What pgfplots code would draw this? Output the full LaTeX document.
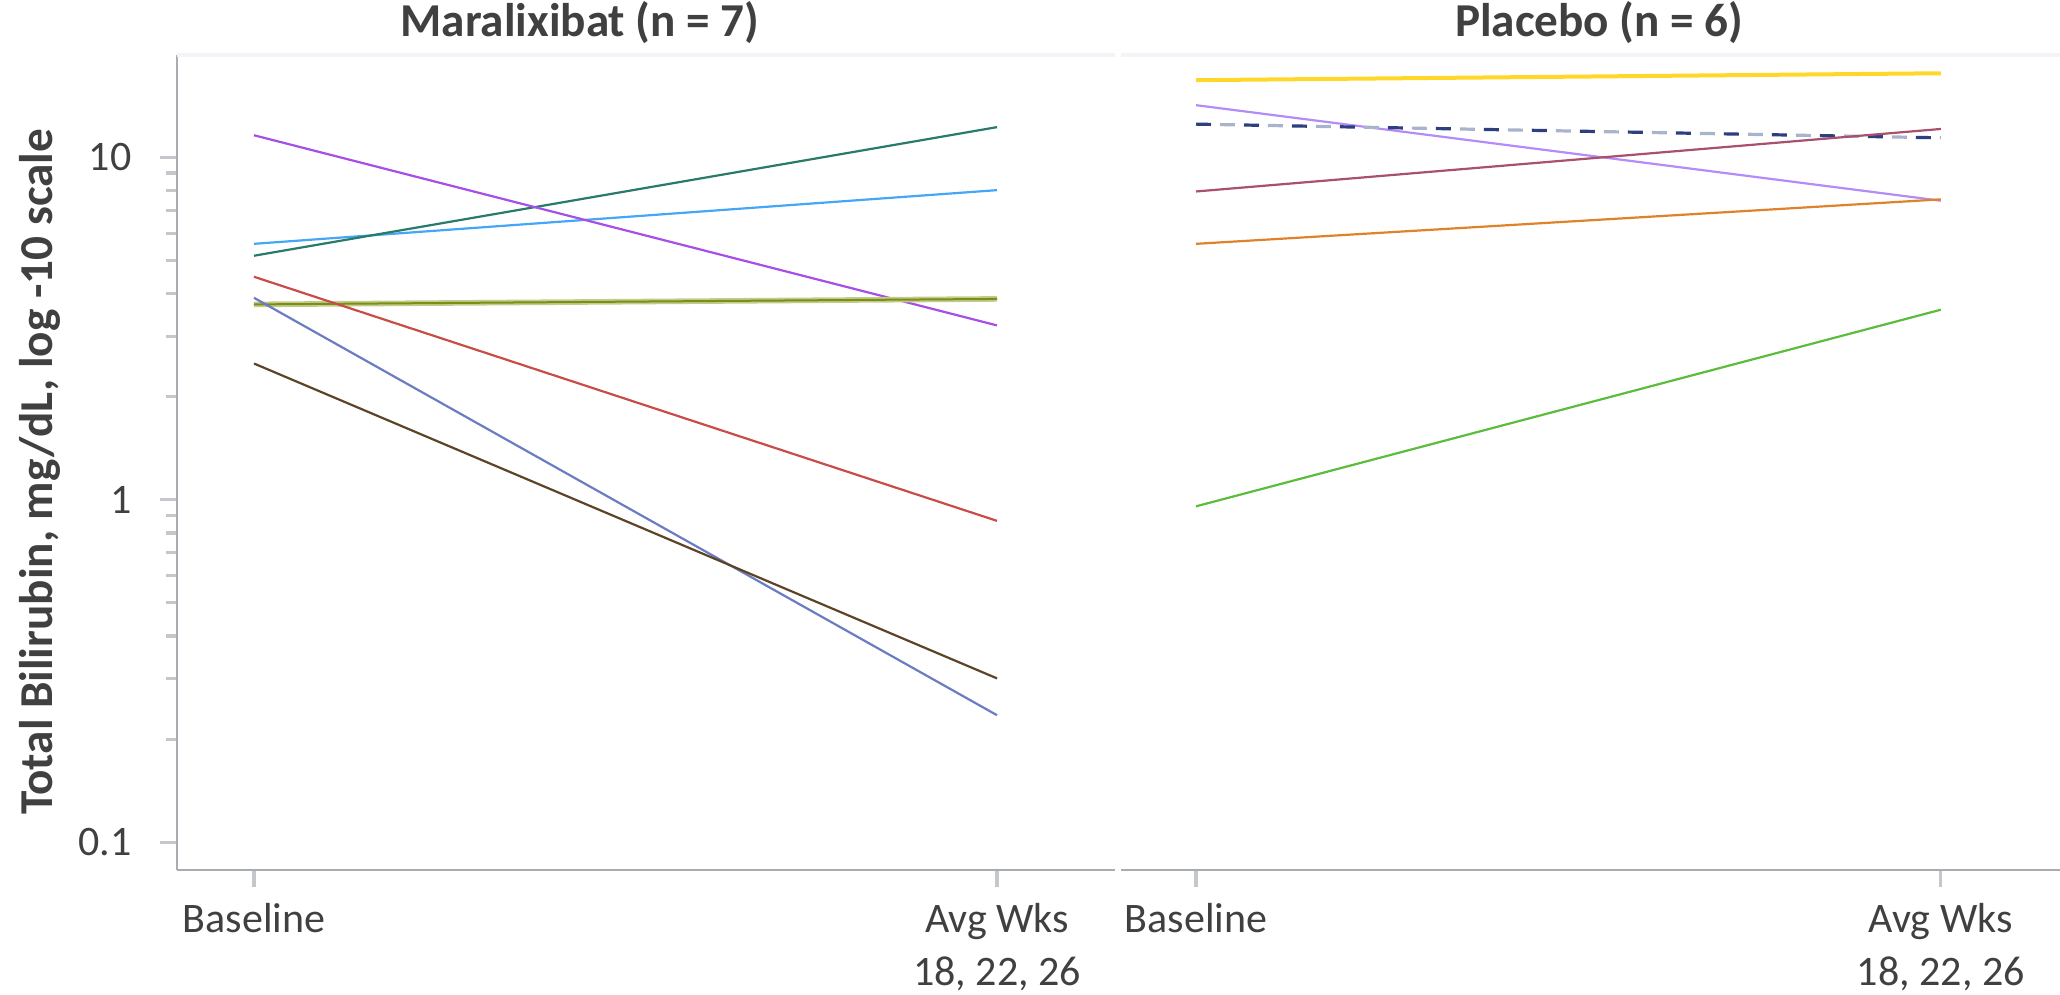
\documentclass[border=0pt]{standalone}
\usepackage{fontspec}
\setmainfont{Carlito}
\usepackage{pgfplots}
\pgfplotsset{compat=1.18}
\definecolor{txt}{HTML}{404040}
\definecolor{axgrey}{HTML}{A9ADB1}
\definecolor{tickgrey}{HTML}{C4C8CC}
\definecolor{topline}{HTML}{F2F4F8}
\definecolor{cViolet}{HTML}{A64EE6}
\definecolor{cTeal}{HTML}{2A7A6A}
\definecolor{cLBlue}{HTML}{44A6F6}
\definecolor{cOlive}{HTML}{7A9012}
\definecolor{cOliveL}{HTML}{C4CA8E}
\definecolor{cRed}{HTML}{C84C48}
\definecolor{cBGrey}{HTML}{6A7CC2}
\definecolor{cBrown}{HTML}{5E4426}
\definecolor{cYellow}{HTML}{FFD728}
\definecolor{cLav}{HTML}{B48CF8}
\definecolor{cNavy}{HTML}{2E3F80}
\definecolor{cNavyL}{HTML}{A8B4CC}
\definecolor{cMauve}{HTML}{A8506C}
\definecolor{cOrange}{HTML}{E0822A}
\definecolor{cGreen}{HTML}{5CBC3C}
\pgfplotsset{
  mypanel/.style={
    scale only axis, anchor=south west,
    height=203.75pt,
    ymin=0.0830, ymax=19.9,
    axis x line*=bottom,
    axis line style={-, axgrey, line width=0.6pt},
    tick style={tickgrey, line width=0.8pt},
    tick align=outside,
    major tick length=4.25pt,
    xtick={0,1},
    xticklabels={Baseline,{Avg Wks\\18, 22, 26}},
    xticklabel style={align=center, font=\fontsize{10.5}{13.2}\selectfont, text=txt, yshift=-0.6pt},
    every axis plot/.append style={line width=0.55pt, no markers},
    clip=false,
  }
}
\begin{document}
\begin{tikzpicture}
\useasboundingbox (0,0) rectangle (515pt,248.75pt);
% left panel
\begin{axis}[ymode=log, mypanel, at={(44.25pt,31.25pt)}, width=234.5pt, xmin=-0.1036, xmax=1.1588,
  axis y line*=left,
  ytick={0.1,1,10}, yticklabels={0.1,1,10}, minor ytick={},
  yticklabel style={font=\fontsize{10.5}{12}\selectfont, text=txt, xshift=-3.6pt}]
\draw[color=topline, line width=0.9pt] (rel axis cs:0,1) -- (rel axis cs:1,1);
\addplot[cLBlue] coordinates {(0,5.59) (1,8.02)};
\addplot[cTeal] coordinates {(0,5.16) (1,12.25)};
\addplot[cViolet] coordinates {(0,11.6) (1,3.23)};
\addplot[cOliveL, line width=1.4pt] coordinates {(0,3.72) (1,3.86)};
\addplot[cOlive, line width=0.5pt] coordinates {(0,3.72) (1,3.86)};
\addplot[cRed] coordinates {(0,4.48) (1,0.868)};
\addplot[cBGrey] coordinates {(0,3.89) (1,0.235)};
\addplot[cBrown] coordinates {(0,2.50) (1,0.301)};
\end{axis}
% right panel
\begin{axis}[ymode=log, mypanel, at={(280.25pt,31.25pt)}, width=234.75pt, xmin=-0.1007, xmax=1.160,
  axis y line=none]
\draw[color=topline, line width=0.9pt] (rel axis cs:0,1) -- (rel axis cs:1,1);
\addplot[cYellow, line width=1.0pt] coordinates {(0,16.8) (1,17.6)};
\addplot[cLav] coordinates {(0,14.2) (1,7.47)};
\addplot[cNavyL, line width=0.8pt, dash pattern=on 3.75pt off 8.25pt, dash phase=6pt] coordinates {(0,12.5) (1,11.4)};
\addplot[cNavy, line width=0.8pt, dash pattern=on 3.75pt off 8.25pt] coordinates {(0,12.5) (1,11.4)};
\addplot[cMauve] coordinates {(0,7.95) (1,12.1)};
\addplot[cOrange] coordinates {(0,5.59) (1,7.54)};
\addplot[cGreen] coordinates {(0,0.957) (1,3.59)};
\end{axis}
\node[anchor=base, font=\bfseries\fontsize{11.8}{13}\selectfont, text=txt] at (145pt,239.5pt) {Maralixibat (n = 7)};
\node[anchor=base, font=\bfseries\fontsize{11.8}{13}\selectfont, text=txt] at (399.8pt,239.5pt) {Placebo (n = 6)};
\node[rotate=90, font=\bfseries\fontsize{11.8}{13}\selectfont, text=txt] at (10pt,130.75pt) {Total Bilirubin, mg/dL, log -10 scale};
\end{tikzpicture}
\end{document}
